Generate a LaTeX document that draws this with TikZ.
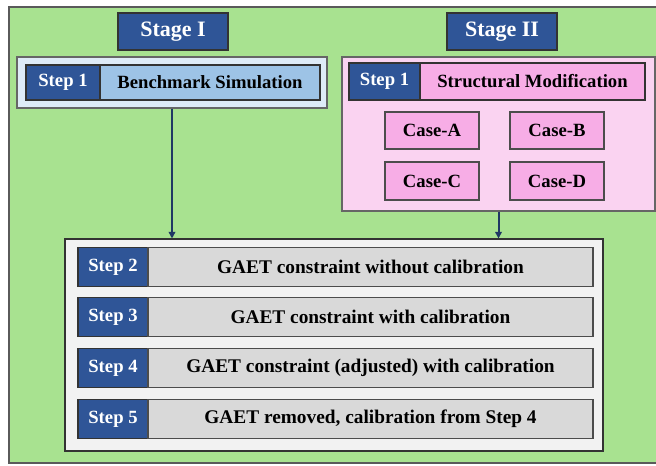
\documentclass[tikz,border=0pt]{standalone}
\usepackage{fontspec}
\setmainfont{Liberation Serif}
\usetikzlibrary{arrows.meta}
\definecolor{bggreen}{HTML}{A8E290}
\definecolor{framegray}{HTML}{5A5A5A}
\definecolor{navy}{HTML}{2F5597}
\definecolor{arrowblue}{HTML}{1F3864}
\definecolor{paleblue}{HTML}{DEEBF7}
\definecolor{midblue}{HTML}{9DC3E6}
\definecolor{palepink}{HTML}{FAD3F1}
\definecolor{midpink}{HTML}{F7ADE6}
\definecolor{lightgray}{HTML}{F2F2F2}
\definecolor{rowgray}{HTML}{D9D9D9}
\begin{document}
\begin{tikzpicture}[x=0.75pt,y=-0.75pt,
  box/.style={draw=#1, line width=0.8pt, inner sep=0pt, font=\bfseries},
  stagebox/.style={box=black!80, fill=navy, text=white, font=\bfseries\fontsize{16.5}{18}\selectfont},
  container/.style={draw=gray!80!black, line width=0.8pt, inner sep=0pt},
  steplabel/.style={box=black!80, fill=navy, text=white, font=\bfseries\fontsize{14}{16}\selectfont},
  stepbody/.style={box=black!80, font=\bfseries\fontsize{14}{16}\selectfont},
  casebox/.style={box=black!70, fill=midpink, font=\bfseries\fontsize{14}{16}\selectfont},
  rowbody/.style={box=black!70, fill=rowgray, font=\bfseries\fontsize{14.5}{16}\selectfont},
  flow/.style={draw=arrowblue, line width=1.5pt, -{Triangle[length=5pt,width=5pt]}}]
\useasboundingbox (0,0) rectangle (656,466);
\fill[white] (0,0) rectangle (656,466);
% green panel
\draw[fill=bggreen, draw=framegray, line width=1pt] (9,7) rectangle (658,463);

% Stage I
\node[stagebox, minimum width=110*0.75pt, minimum height=37*0.75pt] (stageA) at (173,31.5) {Stage I};
\node[container, fill=paleblue, minimum width=310*0.75pt, minimum height=51*0.75pt] (contA) at (172,82.5) {};
\node[steplabel, minimum width=74*0.75pt, minimum height=35*0.75pt] (labA) at (63,82.5) {Step 1};
\node[stepbody, fill=midblue, minimum width=220*0.75pt, minimum height=35*0.75pt] (bodyA) at (210,82.5) {Benchmark Simulation};

% Stage II
\node[stagebox, minimum width=110*0.75pt, minimum height=37*0.75pt] (stageB) at (502,31.5) {Stage II};
\node[container, fill=palepink, minimum width=313*0.75pt, minimum height=154*0.75pt] (contB) at (498.5,134) {};
\node[steplabel, minimum width=71*0.75pt, minimum height=37*0.75pt] (labB) at (384.5,81.5) {Step 1};
\node[stepbody, fill=midpink, minimum width=225*0.75pt, minimum height=37*0.75pt] (bodyB) at (532.5,81.5) {Structural Modification};
\node[casebox, minimum width=94*0.75pt, minimum height=37*0.75pt] (caseA) at (432,130.5) {Case-A};
\node[casebox, minimum width=94*0.75pt, minimum height=37*0.75pt] (caseB) at (557,130.5) {Case-B};
\node[casebox, minimum width=94*0.75pt, minimum height=38*0.75pt] (caseC) at (432,181) {Case-C};
\node[casebox, minimum width=94*0.75pt, minimum height=38*0.75pt] (caseD) at (557,181) {Case-D};

% Calibration steps
\node[container, draw=black!80, fill=lightgray, minimum width=538*0.75pt, minimum height=212*0.75pt] (contC) at (334,345) {};
\foreach \n/\yc/\txt in {2/267/{GAET constraint without calibration},
                         3/317/{GAET constraint with calibration},
                         4/368/{GAET constraint (adjusted) with calibration},
                         5/419/{GAET removed, calibration from Step 4}}{
  \node[steplabel, minimum width=70*0.75pt, minimum height=39*0.75pt] (lab\n) at (113,\yc) {Step \n};
  \node[rowbody, minimum width=445*0.75pt, minimum height=39*0.75pt] (row\n) at (370.5,\yc) {\txt};
}

% connectors
\draw[flow] (contA.south) -- (contA.south |- contC.north);
\draw[flow] (contB.south) -- (contB.south |- contC.north);
\end{tikzpicture}
\end{document}
